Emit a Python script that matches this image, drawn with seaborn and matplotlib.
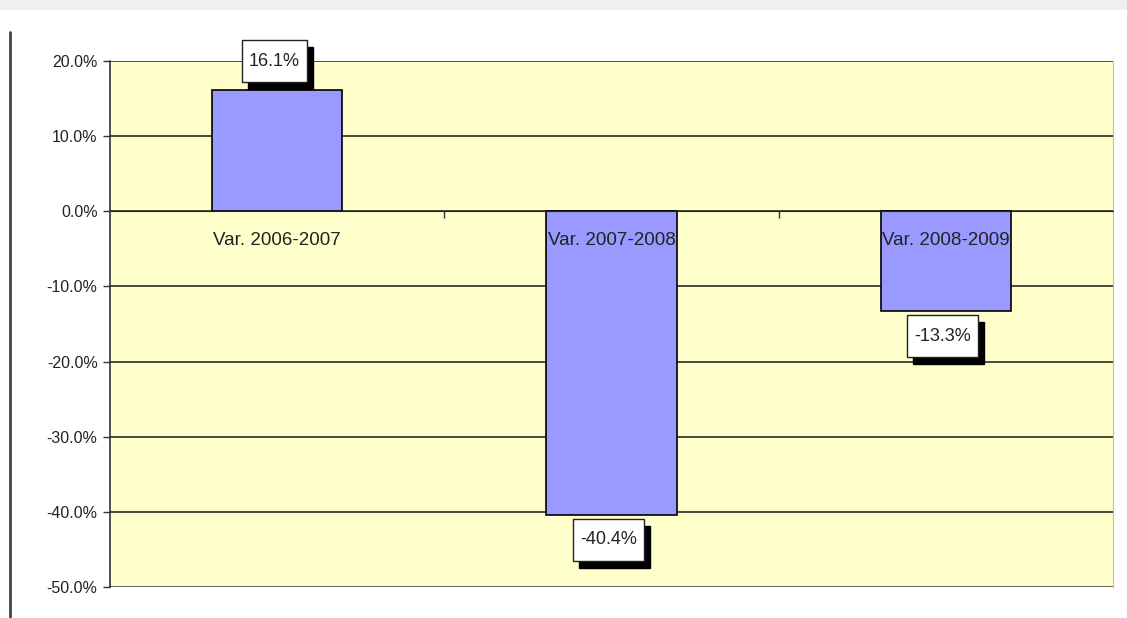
import matplotlib
matplotlib.use("Agg")
import matplotlib.pyplot as plt
from matplotlib.lines import Line2D
from matplotlib.patches import Rectangle
from matplotlib.transforms import IdentityTransform
from matplotlib.ticker import FuncFormatter
import pandas as pd
import seaborn as sns

# Year-on-year variation
periods = ["Var. 2006-2007", "Var. 2007-2008", "Var. 2008-2009"]
variation = [16.1, -40.4, -13.3]
y_ticks = [20, 10, 0, -10, -20, -30, -40, -50]

df = pd.DataFrame({"period": periods, "variation": variation})

sns.set_style("white")
plt.rcParams["font.family"] = ["Liberation Sans", "DejaVu Sans"]

fig = plt.figure(figsize=(11.27, 6.18), dpi=100)
fig.patch.set_facecolor("white")
ax = fig.add_axes([110 / 1127, 1 - 587 / 618, 1003 / 1127, 526 / 618])
ax.set_facecolor("#FFFFCC")

sns.barplot(data=df, x="period", y="variation", order=periods,
            color="#9999FF", saturation=1, width=0.39,
            edgecolor="black", linewidth=1.2, ax=ax, zorder=2)

ax.set_xlim(-0.5, len(periods) - 0.5)
ax.set_ylim(-50, 20)
# axis (and its category labels) drawn over the bars
ax.set_axisbelow(False)

# horizontal gridlines behind the bars
for t in y_ticks:
    ax.axhline(t, color="#1a1a1a", linewidth=1.1, zorder=0.8)

ax.set_yticks(y_ticks)
ax.yaxis.set_major_formatter(FuncFormatter(lambda v, _: f"{v:.1f}%"))
ax.tick_params(axis="y", length=5, width=1, color="#333333", pad=4,
               labelsize=11.5, labelcolor="#222222", left=True)

# category axis sits on the zero line
ax.spines["bottom"].set_position(("data", 0))
ax.spines["bottom"].set_color("#222222")
ax.spines["left"].set_color("#222222")
ax.spines["left"].set_linewidth(1.1)
ax.spines["top"].set_visible(False)
ax.spines["right"].set_color("#BBBBBB")
ax.set_xticks(range(len(periods)))
ax.set_xticklabels(periods)
ax.tick_params(axis="x", length=0, pad=15, labelsize=13.5, labelcolor="#222222")
ax.set_xticks([0.5, 1.5], minor=True)
ax.tick_params(axis="x", which="minor", length=5, width=1, color="#333333",
               direction="out", bottom=True)
ax.axhline(-50, color="#CCCCCC", linewidth=1, zorder=0.9)
ax.set_xlabel("")
ax.set_ylabel("")

# value labels: white boxes with a black drop shadow
box_h = 42
labels = []
for i, v in enumerate(variation):
    dy = 29 if v > 0 else -25
    lab = ax.annotate(f"{v:.1f}%", xy=(i, v), xytext=(-3, dy),
                      textcoords="offset pixels", ha="center", va="center",
                      fontsize=13, color="#222222", annotation_clip=False,
                      zorder=7)
    labels.append(lab)

fig.canvas.draw()
renderer = fig.canvas.get_renderer()
for lab in labels:
    bb = lab.get_window_extent(renderer)
    cx, cy = (bb.x0 + bb.x1) / 2, (bb.y0 + bb.y1) / 2
    w = bb.width + 14
    x0, y0 = cx - w / 2, cy - box_h / 2
    ax.add_patch(Rectangle((x0 + 6, y0 - 7), w, box_h, transform=IdentityTransform(),
                           facecolor="black", edgecolor="black", zorder=5,
                           clip_on=False))
    ax.add_patch(Rectangle((x0, y0), w, box_h, transform=IdentityTransform(),
                           facecolor="white", edgecolor="#222222", lw=1, zorder=6,
                           clip_on=False))

# page decorations: grey strip on top and a frame line on the left
fig.add_artist(Rectangle((0, 1 - 10 / 618), 1, 10 / 618, transform=fig.transFigure,
                         facecolor="#EFEFEF", edgecolor="none"))
fig.add_artist(Line2D([10 / 1127, 10 / 1127], [0, 1 - 32 / 618],
                      transform=fig.transFigure, color="#444444", linewidth=2))

fig.savefig("out.png", dpi=100)
